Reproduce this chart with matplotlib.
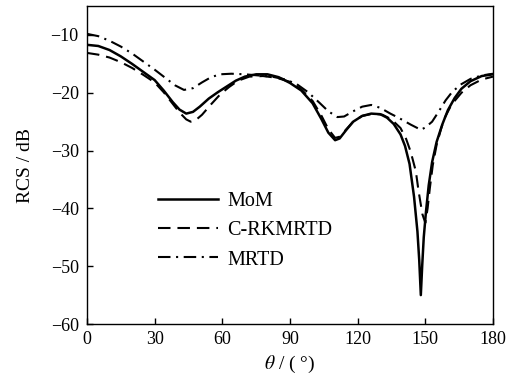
import numpy as np
import matplotlib
matplotlib.use("Agg")
import matplotlib.pyplot as plt

plt.rcParams['font.family'] = ['Liberation Serif', 'DejaVu Serif']
plt.rcParams['mathtext.fontset'] = 'stix'
plt.rcParams['lines.scale_dashes'] = False

# MoM (solid)
theta_mom = [0, 5, 10, 15, 20, 25, 30, 34, 38, 41, 44, 47, 50, 54, 58, 62, 66, 70, 75, 80,
             85, 90, 95, 100, 104, 107, 110, 112, 115, 118, 122, 126, 130, 133, 136, 139,
             141, 143, 145, 146.5, 147.3, 148, 148.6, 149.3, 150.3, 151.5, 153, 155,
             157.5, 160, 163, 166, 170, 175, 180]
rcs_mom = [-11.7, -11.9, -12.6, -13.7, -15.0, -16.4, -17.8, -19.6, -21.6, -22.9, -23.6, -23.3,
           -22.4, -21.0, -19.9, -18.9, -17.9, -17.2, -16.8, -16.8, -17.3, -18.3, -19.6, -21.8,
           -24.6, -26.9, -28.2, -27.9, -26.4, -25.0, -24.0, -23.6, -23.7, -24.3, -25.4, -27.2,
           -29.2, -32.3, -38.0, -44.0, -49.0, -55.0, -50.0, -45.0, -40.5, -36.0, -32.0, -28.5,
           -25.5, -23.0, -20.9, -19.3, -18.0, -17.1, -16.8]

# C-RKMRTD (dashed)
theta_rk = [0, 5, 10, 15, 20, 25, 30, 34, 38, 41, 44, 46, 48, 51, 55, 59, 63, 67, 72, 78, 84,
            90, 95, 100, 104, 107, 110, 112, 115, 118, 122, 127, 131, 135, 139, 141.5, 143.5,
            145.8, 147, 148.7, 150, 151, 152, 153.3, 155, 157, 158.5, 161, 163, 166, 170, 175,
            180]
rcs_rk = [-13.1, -13.4, -13.9, -14.7, -15.7, -16.9, -18.2, -19.9, -21.9, -23.4, -24.6, -25.0,
          -24.8, -23.8, -22.0, -20.3, -19.0, -17.9, -17.2, -17.1, -17.4, -18.1, -19.4, -21.4,
          -24.0, -26.3, -27.8, -27.6, -26.3, -25.0, -24.0, -23.6, -23.8, -24.6, -26.1, -28.0,
          -30.2, -33.6, -37.0, -41.0, -42.5, -40.0, -36.5, -32.5, -29.0, -26.2, -24.4, -22.5,
          -21.4, -20.0, -18.7, -17.7, -17.2]

# MRTD (dash-dot)
theta_mr = [0, 5, 10, 15, 20, 25, 30, 35, 39, 43, 47, 51, 55, 59, 64, 70, 76, 82, 88, 93, 98,
            103, 107, 111, 114, 118, 122, 126, 130, 134.5, 138.5, 143.5, 148, 150, 153, 156,
            159, 162, 166, 170, 175, 180]
rcs_mr = [-9.8, -10.2, -11.0, -12.0, -13.2, -14.6, -16.0, -17.5, -18.7, -19.5, -19.2, -18.2,
          -17.3, -16.8, -16.7, -16.8, -17.0, -17.2, -17.7, -18.5, -19.9, -21.7, -23.2, -24.2,
          -24.1, -23.2, -22.4, -22.1, -22.6, -23.6, -24.4, -25.5, -26.4, -26.0, -25.0, -23.2,
          -21.3, -19.8, -18.5, -17.6, -17.0, -16.7]

x_ticks = [0, 30, 60, 90, 120, 150, 180]
y_ticks = [-60, -50, -40, -30, -20, -10]

fig = plt.figure(figsize=(5.32, 3.81), dpi=100)
ax = fig.add_axes([0.1635, 0.1496, 0.7632, 0.8344])

ax.plot(theta_mom, rcs_mom, color='black', lw=1.8, linestyle='-', label='MoM')
ax.plot(theta_rk, rcs_rk, color='black', lw=1.5, linestyle=(0, (9, 5)), label='C-RKMRTD')
ax.plot(theta_mr, rcs_mr, color='black', lw=1.5, linestyle=(0, (9, 4, 1.5, 4)), label='MRTD')

ax.set_xlim(0, 180)
ax.set_ylim(-60, -5)
ax.set_xticks(x_ticks)
ax.set_yticks(y_ticks)
ax.set_yticklabels(['\u2212' + str(abs(v)) for v in y_ticks])
ax.tick_params(direction='in', length=4, width=1, labelsize=13, top=False, right=False)
ax.tick_params(axis='x', pad=5)
ax.tick_params(axis='y', pad=6)
for s in ax.spines.values():
    s.set_linewidth(1.0)

ax.set_xlabel(r'$\theta$ / ( °)', fontsize=14, labelpad=4)
ax.set_ylabel('RCS / dB', fontsize=14, labelpad=12)

ax.legend(loc='upper left', bbox_to_anchor=(0.175, 0.415), frameon=False, fontsize=14.5,
          handlelength=3.0, handletextpad=0.45, labelspacing=0.5, borderaxespad=0, borderpad=0)

fig.savefig('out.png', dpi=100)
